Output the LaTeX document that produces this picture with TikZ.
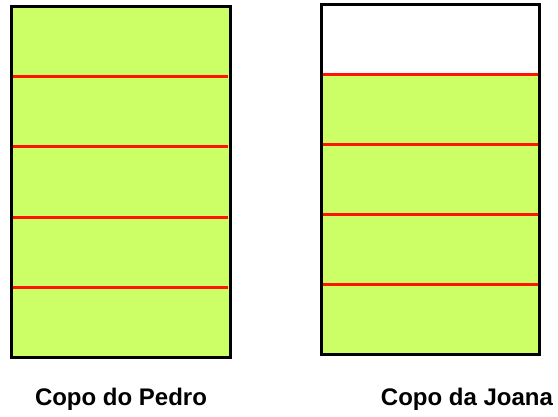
\documentclass[tikz,border=0pt]{standalone}
\usepackage{fontspec}
\setmainfont{Liberation Sans}
\definecolor{juice}{RGB}{204,255,102}
\definecolor{lvl}{RGB}{255,20,0}
\begin{document}
\begin{tikzpicture}[x=1pt,y=-1pt,
  glass/.style={draw=black,line width=3pt},
  level/.style={draw=lvl,line width=3pt},
  caption/.style={font=\fontsize{24}{28}\selectfont\bfseries,anchor=base,inner sep=0pt}]
\useasboundingbox (0,0) rectangle (558,416);
% left glass
\fill[juice] (11.5,6.5) rectangle (230.5,357.5);
\foreach \y in {76.7,146.9,217.1,287.3}
  \draw[level] (11.5,\y) -- (228,\y);
\draw[glass] (11.5,6.5) rectangle (230.5,357.5);
% right glass
\fill[juice] (321,74.3) rectangle (539.5,354);
\foreach \y in {74.3,144,214,284}
  \draw[level] (321,\y) -- (539.5,\y);
\draw[glass] (321,4.3) rectangle (539.5,354);
\node[caption] (p) at (121,405) {Copo do Pedro};
\node[caption] (j) at (467,405) {Copo da Joana};
\end{tikzpicture}
\end{document}
